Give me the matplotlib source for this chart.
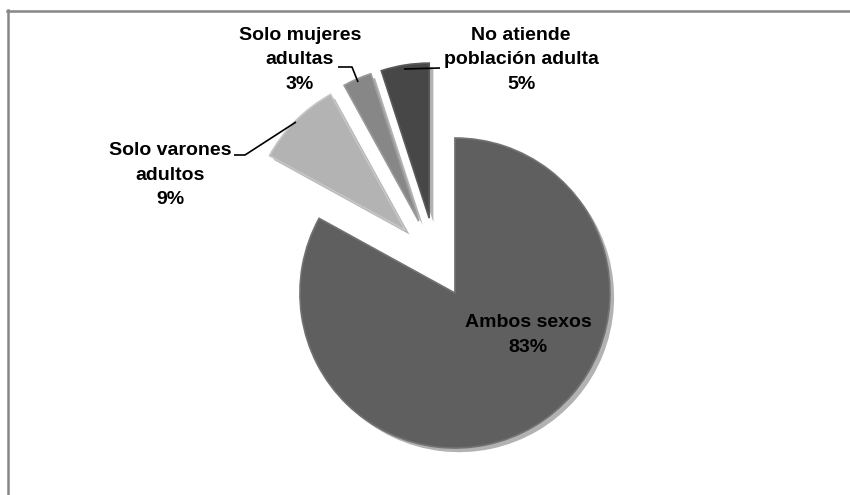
import matplotlib
matplotlib.use("Agg")
import matplotlib.pyplot as plt
import matplotlib.patheffects as pe
from matplotlib.lines import Line2D

categories = ["Ambos sexos", "Solo varones\nadultos", "Solo mujeres\nadultas",
              "No atiende\npoblación adulta"]
values = [83, 9, 3, 5]
colors = ["#5f5f5f", "#b3b3b3", "#878787", "#474747"]
edges = ["#727272", "#c6c6c6", "#9a9a9a", "#5a5a5a"]
explode = [0.24, 0.28, 0.28, 0.28]

W, H = 850, 495
CX, CY, R = 436, 261, 155   # pie centre and radius in pixels


def px(x, y):
    # pixel position (y down) -> data units of the pie (radius 1)
    return (x - CX) / R, (CY - y) / R


plt.rcParams["font.family"] = ["Liberation Sans", "DejaVu Sans"]

fig = plt.figure(figsize=(W / 100, H / 100), dpi=100)
ax = fig.add_axes([0, 0, 1, 1])

wedges, _ = ax.pie(values, colors=colors, explode=explode, startangle=90,
                   counterclock=False, radius=1,
                   wedgeprops=dict(linewidth=1.2))
for w, ec in zip(wedges, edges):
    w.set_edgecolor(ec)
    w.set_path_effects([pe.SimplePatchShadow(offset=(3, -3), shadow_rgbFace="k",
                                             alpha=0.3),
                        pe.Normal()])

ax.set_xlim(px(0, 0)[0], px(W, 0)[0])
ax.set_ylim(px(0, H)[1], px(0, 0)[1])
ax.set_aspect("auto")
ax.axis("off")

tstyle = dict(ha="center", va="center", fontsize=14, fontweight="bold",
              linespacing=1.55, color="black")

pcts = [f"{v}%" for v in values]
label_pos = [(528, 335), (170, 175), (300, 60), (521, 60)]
for cat, pct, (lx, ly) in zip(categories, pcts, label_pos):
    ax.text(*px(lx, ly), f"{cat}\n{pct}", **tstyle)

# leader lines
leaders = [
    [(234, 155), (245, 155), (296, 122)],
    [(338, 67), (352, 67), (358, 82)],
    [(440, 68), (404, 69)],
]
for pts in leaders:
    xs, ys = zip(*[px(a, b) for a, b in pts])
    ax.plot(xs, ys, color="black", lw=1.2, solid_capstyle="butt")

# chart frame (only top and left edges visible)
fig.add_artist(Line2D([7 / W, 1], [1 - 11 / H, 1 - 11 / H], color="#878787", lw=1.8))
fig.add_artist(Line2D([8 / W, 8 / W], [0, 1 - 10 / H], color="#878787", lw=1.8))

fig.savefig("out.png", dpi=100)
